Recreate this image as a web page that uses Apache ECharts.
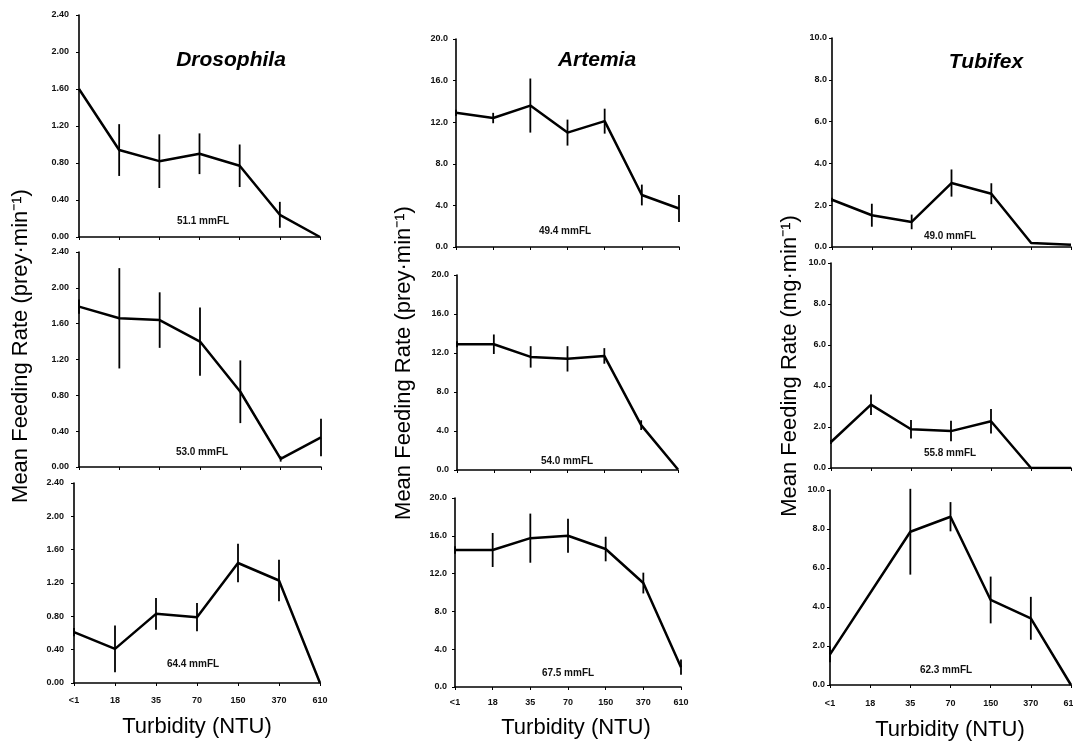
<!DOCTYPE html>
<html>
<head>
<meta charset="utf-8">
<script src="https://cdn.jsdelivr.net/npm/echarts@6/dist/echarts.min.js"></script>
<style>
html,body{margin:0;padding:0;background:#fff;}
#c{width:1073px;height:744px;}
</style>
</head>
<body>
<div id="c"></div>
<script>
// ---------- DATA ----------
const categories = ['<1', '18', '35', '70', '150', '370', '610'];

// Drosophila (prey·min-1)
const droso51 = [1.60, 0.94, 0.82, 0.90, 0.77, 0.24, 0.00];
const droso51Err = [0.00, 0.28, 0.29, 0.22, 0.23, 0.14, 0.00];
const droso53 = [1.79, 1.66, 1.64, 1.40, 0.84, 0.09, 0.33];
const droso53Err = [0.08, 0.56, 0.31, 0.38, 0.35, 0.03, 0.21];
const droso64 = [0.61, 0.41, 0.83, 0.79, 1.44, 1.23, 0.00];
const droso64Err = [0.05, 0.28, 0.19, 0.17, 0.23, 0.25, 0.00];

// Artemia (prey·min-1)
const artem49 = [12.9, 12.4, 13.6, 11.0, 12.1, 5.0, 3.7];
const artem49Err = [0.3, 0.5, 2.6, 1.25, 1.2, 1.0, 1.3];
const artem54 = [12.9, 12.9, 11.6, 11.4, 11.7, 4.6, 0.05];
const artem54Err = [0.3, 1.0, 1.1, 1.3, 0.8, 0.5, 0.0];
const artem67 = [14.5, 14.5, 15.75, 16.0, 14.6, 11.0, 2.1];
const artem67Err = [0.4, 1.8, 2.6, 1.8, 1.3, 1.1, 0.8];

// Tubifex (mg·min-1)
const tubi49 = [2.26, 1.52, 1.20, 3.06, 2.55, 0.19, 0.11];
const tubi49Err = [0.10, 0.55, 0.35, 0.65, 0.50, 0.00, 0.00];
const tubi55 = [1.27, 3.09, 1.89, 1.80, 2.28, 0.00, 0.00];
const tubi55Err = [0.10, 0.50, 0.45, 0.50, 0.60, 0.00, 0.00];
const tubi62 = [1.57, null, 7.86, 8.63, 4.36, 3.42, 0.00];
const tubi62Err = [0.40, null, 2.20, 0.75, 1.20, 1.10, 0.00];

// Axis scales
const drosoAxis = { min: 0, max: 2.4, interval: 0.4, decimals: 2 };
const artemAxis = { min: 0, max: 20, interval: 4, decimals: 1 };
const tubiAxis = { min: 0, max: 10, interval: 2, decimals: 1 };

const sizeLabels = ['51.1 mmFL', '53.0 mmFL', '64.4 mmFL',
                    '49.4 mmFL', '54.0 mmFL', '67.5 mmFL',
                    '49.0 mmFL', '55.8 mmFL', '62.3 mmFL'];
const speciesTitles = ['Drosophila', 'Artemia', 'Tubifex'];
const yTitles = ['Mean Feeding Rate (prey\u00B7min\u207B\u00B9)',
                 'Mean Feeding Rate (prey\u00B7min\u207B\u00B9)',
                 'Mean Feeding Rate (mg\u00B7min\u207B\u00B9)'];
const xTitle = 'Turbidity (NTU)';

// ---------- LAYOUT ----------
const panels = [
  { mean: droso51, err: droso51Err, axis: drosoAxis, grid: {left: 79, top: 15, width: 241, height: 222}, bottom: false, lab: [203, 221], ym: 10 },
  { mean: droso53, err: droso53Err, axis: drosoAxis, grid: {left: 79, top: 252, width: 242, height: 215}, bottom: false, lab: [202, 452], ym: 10 },
  { mean: droso64, err: droso64Err, axis: drosoAxis, grid: {left: 74, top: 483, width: 246, height: 200}, bottom: true, lab: [193, 664], lm: 13, ym: 10 },
  { mean: artem49, err: artem49Err, axis: artemAxis, grid: {left: 456, top: 39, width: 223, height: 208}, bottom: false, lab: [565, 231], ym: 8 },
  { mean: artem54, err: artem54Err, axis: artemAxis, grid: {left: 457, top: 275, width: 221, height: 195}, bottom: false, lab: [567, 461], ym: 8 },
  { mean: artem67, err: artem67Err, axis: artemAxis, grid: {left: 455, top: 498, width: 226, height: 189}, bottom: true, lab: [568, 673], lm: 11, ym: 8 },
  { mean: tubi49, err: tubi49Err, axis: tubiAxis, grid: {left: 832, top: 38, width: 239, height: 209}, bottom: false, lab: [950, 236], ym: 5 },
  { mean: tubi55, err: tubi55Err, axis: tubiAxis, grid: {left: 831, top: 263, width: 240, height: 205}, bottom: false, lab: [950, 453], ym: 5 },
  { mean: tubi62, err: tubi62Err, axis: tubiAxis, grid: {left: 830, top: 490, width: 241, height: 195}, bottom: true, lab: [946, 670], lm: 14, ym: 5 }
];

const tickFont = { fontFamily: 'Liberation Sans, Arial, sans-serif', fontSize: 9, fontWeight: 'bold', color: '#111' };

const grids = [], xAxes = [], yAxes = [], series = [];
panels.forEach((p, i) => {
  grids.push(Object.assign({ containLabel: false, outerBoundsMode: 'none' }, p.grid));
  xAxes.push({
    type: 'category', gridIndex: i, data: categories, boundaryGap: false,
    axisLine: { lineStyle: { color: '#000', width: 1.6 } },
    axisTick: { show: true, length: 3, lineStyle: { color: '#000', width: 1 } },
    axisLabel: Object.assign({ show: p.bottom, margin: p.lm || 12, interval: 0, hideOverlap: false }, tickFont),
    splitLine: { show: false }
  });
  yAxes.push({
    type: 'value', gridIndex: i, min: p.axis.min, max: p.axis.max, interval: p.axis.interval,
    axisLine: { show: true, lineStyle: { color: '#000', width: 1.6 } },
    axisTick: { show: true, length: 3, lineStyle: { color: '#000', width: 1 } },
    axisLabel: Object.assign({ margin: p.ym, formatter: v => v.toFixed(p.axis.decimals) }, tickFont),
    splitLine: { show: false }
  });
  series.push({
    type: 'line', xAxisIndex: i, yAxisIndex: i, data: p.mean, connectNulls: true,
    symbol: 'none', lineStyle: { color: '#000', width: 2.5 }, silent: true, z: 3
  });
  const errData = [];
  p.err.forEach((e, k) => {
    if (e !== null && p.mean[k] !== null && e > 0) errData.push([k, p.mean[k] - e, p.mean[k] + e]);
  });
  series.push({
    type: 'custom', xAxisIndex: i, yAxisIndex: i, data: errData, silent: true, z: 4,
    encode: { x: 0, y: [1, 2] },
    renderItem: function (params, api) {
      const lo = api.coord([api.value(0), api.value(1)]);
      const hi = api.coord([api.value(0), api.value(2)]);
      return { type: 'line', shape: { x1: lo[0], y1: lo[1], x2: hi[0], y2: hi[1] },
               style: { stroke: '#000', lineWidth: 1.8 } };
    }
  });
});

// ---------- TEXT ----------
const graphic = [];
panels.forEach((p, i) => {
  graphic.push({ type: 'text', x: p.lab[0], y: p.lab[1], silent: true,
    style: { text: sizeLabels[i], textAlign: 'center', textVerticalAlign: 'middle',
      font: 'bold 10px "Liberation Sans", Arial, sans-serif', fill: '#111' } });
});
const titlePos = [[231, 60], [597, 60], [986, 62]];
speciesTitles.forEach((t, i) => {
  graphic.push({ type: 'text', x: titlePos[i][0], y: titlePos[i][1], silent: true,
    style: { text: t, textAlign: 'center', textVerticalAlign: 'middle',
      font: 'italic bold 21px "Liberation Sans", Arial, sans-serif', fill: '#000' } });
});
const yTitlePos = [[21, 346], [404, 363], [790, 366]];
yTitles.forEach((t, i) => {
  graphic.push({ type: 'text', x: yTitlePos[i][0], y: yTitlePos[i][1], rotation: Math.PI / 2, silent: true,
    style: { text: t, textAlign: 'center', textVerticalAlign: 'middle',
      font: '22px "Liberation Sans", Arial, sans-serif', fill: '#000' } });
});
const xTitlePos = [[197, 727], [576, 728], [950, 730]];
xTitlePos.forEach(pos => {
  graphic.push({ type: 'text', x: pos[0], y: pos[1], silent: true,
    style: { text: xTitle, textAlign: 'center', textVerticalAlign: 'middle',
      font: '22px "Liberation Sans", Arial, sans-serif', fill: '#000' } });
});

const chart = echarts.init(document.getElementById('c'), null, { renderer: 'canvas' });
chart.setOption({
  backgroundColor: '#fff',
  animation: false,
  grid: grids, xAxis: xAxes, yAxis: yAxes, series: series, graphic: graphic
});
</script>
</body>
</html>
